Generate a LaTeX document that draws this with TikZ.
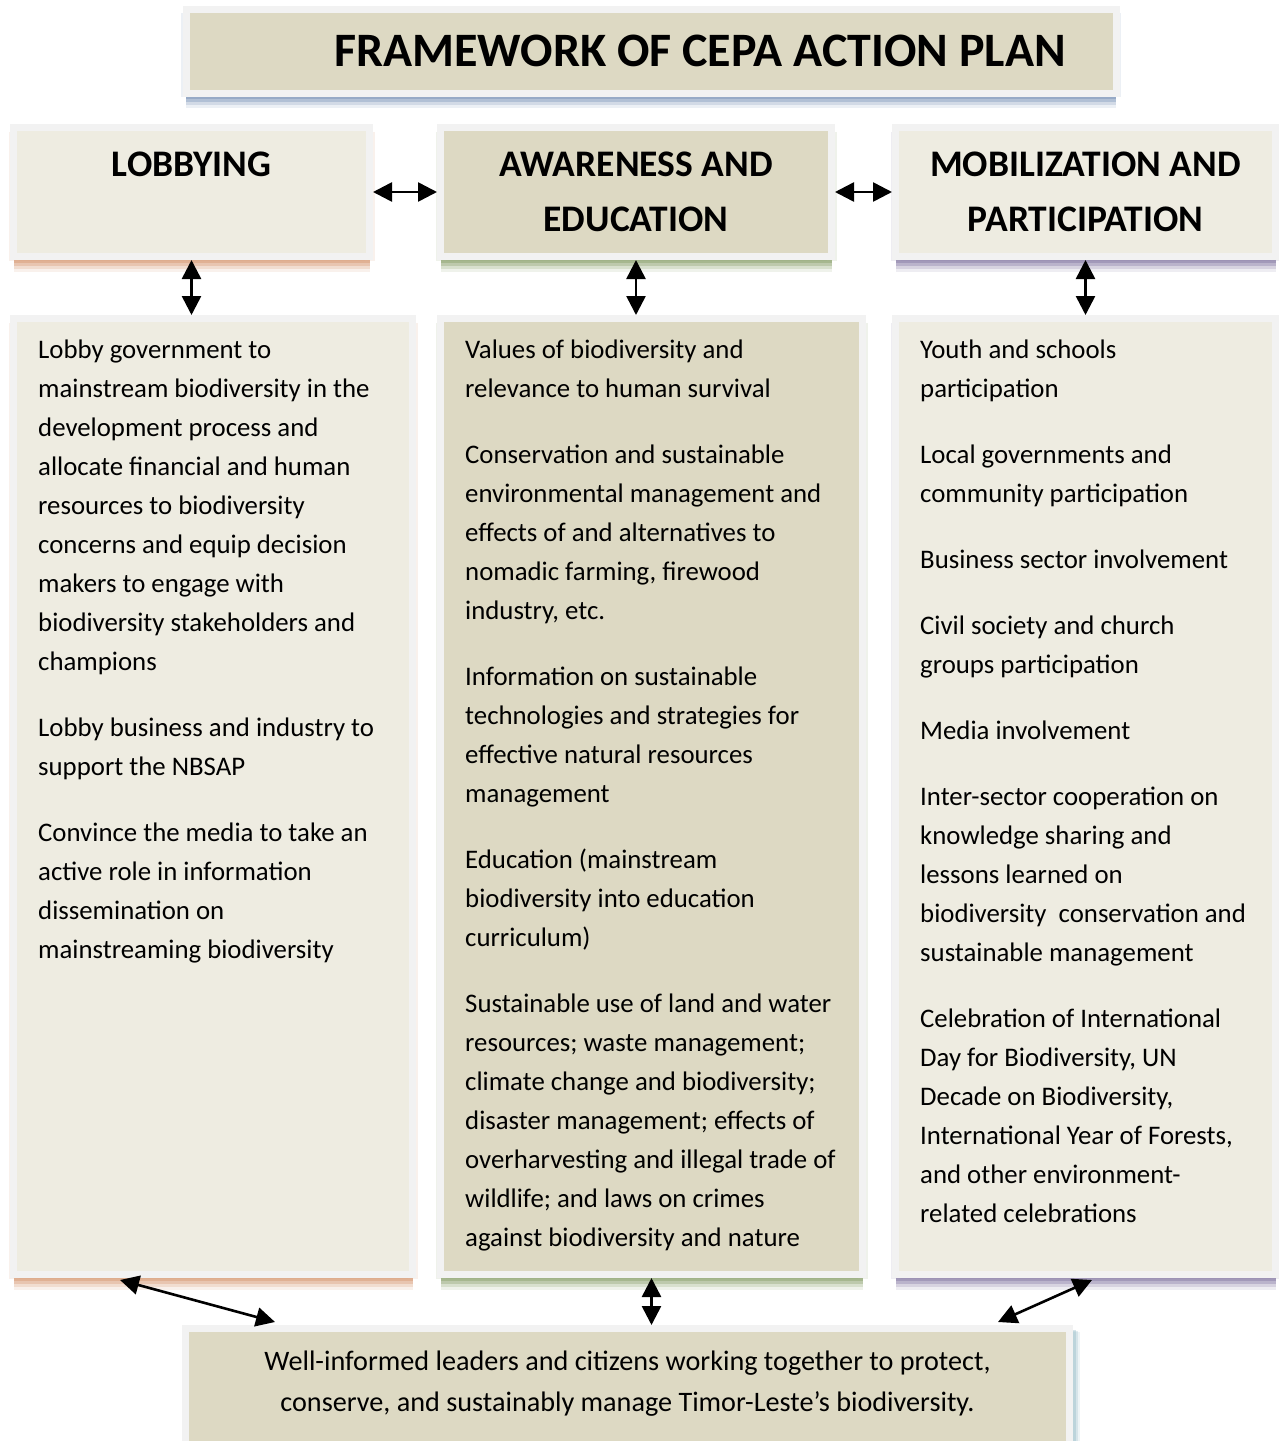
\documentclass[tikz,border=0pt]{standalone}
\usepackage{fontspec}
\setmainfont{Carlito}
\usetikzlibrary{arrows.meta,shadows,calc}
\definecolor{boxtan}{HTML}{DDD9C3}
\definecolor{boxlight}{HTML}{EEECE1}
\definecolor{boxedge}{HTML}{F2F2F2}
\definecolor{shOrange}{HTML}{D9A17E}
\definecolor{shGreen}{HTML}{94A878}
\definecolor{shPurple}{HTML}{8F84AA}
\definecolor{shBlue}{HTML}{8198BA}
\definecolor{shAqua}{HTML}{8DB5C2}
\tikzset{
  box/.style={draw=boxedge, line width=7pt, inner sep=0pt, align=center},
  shad/.style={drop shadow={shadow xshift=5pt,shadow yshift=-4pt,fill=#1,opacity=0.15},
               drop shadow={shadow xshift=-5pt,shadow yshift=-4pt,fill=#1,opacity=0.15},
               drop shadow={shadow xshift=0pt,shadow yshift=-15pt,fill=#1,opacity=0.15},
               drop shadow={shadow xshift=0pt,shadow yshift=-12pt,fill=#1,opacity=0.25},
               drop shadow={shadow xshift=0pt,shadow yshift=-9pt,fill=#1,opacity=0.4},
               drop shadow={shadow xshift=0pt,shadow yshift=-6pt,fill=#1,opacity=0.55}},
  headfont/.style={font=\fontsize{37.5}{55}\selectfont\bfseries},
  bodytext/.style={inner sep=0pt, anchor=base west, font=\fontsize{26.8}{39}\selectfont},
  tipend/.tip={Triangle[length=19pt,width=19pt]},
  arr/.style={tipend-tipend, line width=2.6pt, black},
}
\begin{document}
\begin{tikzpicture}[x=1pt,y=-1pt]
\useasboundingbox (0,0) rectangle (1279,1441);

% title
\node[box, fill=boxtan, shad=shBlue, minimum width=930pt, minimum height=84pt,
      font=\fontsize{48}{58}\selectfont\bfseries] (title) at (651,51)
      {\hspace*{98pt}FRAMEWORK OF CEPA ACTION PLAN};

% headers
\node[box, fill=boxlight, shad=shOrange, minimum width=356pt, minimum height=129pt, headfont]
      (lobH) at (191.5,192) {LOBBYING\\\mbox{}};
\node[box, fill=boxtan, shad=shGreen, minimum width=391pt, minimum height=129pt, headfont]
      (awH) at (636,192) {AWARENESS AND\\EDUCATION};
\node[box, fill=boxlight, shad=shPurple, minimum width=380pt, minimum height=129pt, headfont]
      (mobH) at (1085.5,192) {MOBILIZATION AND\\PARTICIPATION};

% detail boxes
\node[box, fill=boxlight, shad=shOrange, minimum width=399pt, minimum height=956pt]
      (lobD) at (213,796.5) {};
\node[box, fill=boxtan, shad=shGreen, minimum width=422pt, minimum height=956pt]
      (awD) at (651.5,796.5) {};
\node[box, fill=boxlight, shad=shPurple, minimum width=380pt, minimum height=956pt]
      (mobD) at (1085.5,796.5) {};

% bottom box
\node[box, fill=boxtan,
      drop shadow={shadow xshift=10pt,shadow yshift=-3pt,fill=shAqua,opacity=0.15},
      drop shadow={shadow xshift=8pt,shadow yshift=-2pt,fill=shAqua,opacity=0.25},
      drop shadow={shadow xshift=6pt,shadow yshift=-1pt,fill=shAqua,opacity=0.35},
      minimum width=884pt, minimum height=116pt] (bot) at (627.5,1386.5) {};

% texts
\node[bodytext] (lobT) at (38,358) {\begin{tabular}[t]{@{}l@{}}
Lobby government to\\
mainstream biodiversity in the\\
development process and\\
allocate financial and human\\
resources to biodiversity\\
concerns and equip decision\\
makers to engage with\\
biodiversity stakeholders and\\
champions\\[27pt]
Lobby business and industry to\\
support the NBSAP\\[27pt]
Convince the media to take an\\
active role in information\\
dissemination on\\
mainstreaming biodiversity
\end{tabular}};

\node[bodytext] (awT) at (465,358) {\begin{tabular}[t]{@{}l@{}}
Values of biodiversity and\\
relevance to human survival\\[27pt]
Conservation and sustainable\\
environmental management and\\
effects of and alternatives to\\
nomadic farming, firewood\\
industry, etc.\\[27pt]
Information on sustainable\\
technologies and strategies for\\
effective natural resources\\
management\\[27pt]
Education (mainstream\\
biodiversity into education\\
curriculum)\\[27pt]
Sustainable use of land and water\\
resources; waste management;\\
climate change and biodiversity;\\
disaster management; effects of\\
overharvesting and illegal trade of\\
wildlife; and laws on crimes\\
against biodiversity and nature
\end{tabular}};

\node[bodytext] (mobT) at (920,358) {\begin{tabular}[t]{@{}l@{}}
Youth and schools\\
participation\\[27pt]
Local governments and\\
community participation\\[27pt]
Business sector involvement\\[27pt]
Civil society and church\\
groups participation\\[27pt]
Media involvement\\[27pt]
Inter-sector cooperation on\\
knowledge sharing and\\
lessons learned on\\
biodiversity\ \ conservation and\\
sustainable management\\[27pt]
Celebration of International\\
Day for Biodiversity, UN\\
Decade on Biodiversity,\\
International Year of Forests,\\
and other environment-\\
related celebrations
\end{tabular}};

\node[inner sep=0pt, anchor=base, font=\fontsize{28.2}{41}\selectfont] (botT) at (627.5,1370)
  {\begin{tabular}[t]{@{}c@{}}
  Well-informed leaders and citizens working together to protect,\\
  conserve, and sustainably manage Timor-Leste’s biodiversity.
  \end{tabular}};

% connectors
\draw[arr] (lobH.east) -- (awH.west);
\draw[arr] (awH.east) -- (mobH.west);
\draw[arr] (lobH.south) -- (lobH.south |- lobD.north);
\draw[arr] (awH.south) -- (awH.south |- awD.north);
\draw[arr] (mobH.south) -- (mobH.south |- mobD.north);
\draw[arr] ($(lobD.south west)+(110,2)$) -- ($(bot.north west)+(93,-3)$);
\draw[arr] (awD.south) -- (awD.south |- bot.north);
\draw[arr] ($(mobD.south west)+(200,2)$) -- ($(bot.north east)+(-75,-3)$);
\end{tikzpicture}
\end{document}
